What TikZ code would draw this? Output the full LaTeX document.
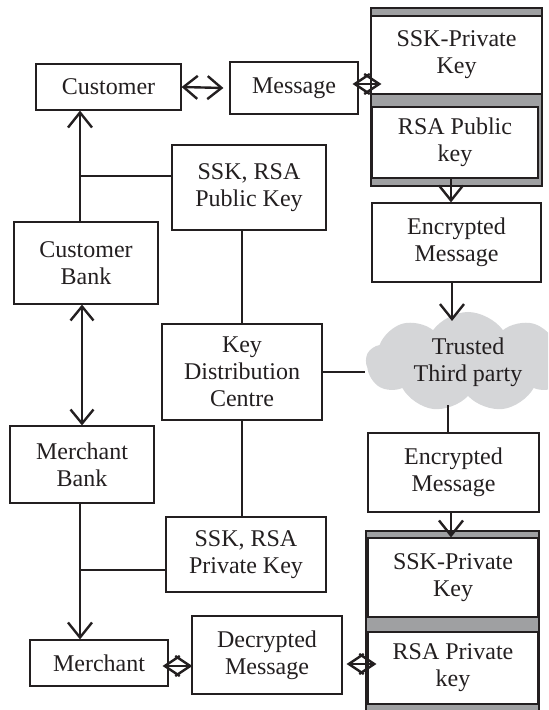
\documentclass[tikz,border=0pt]{standalone}
\usepackage{fontspec}
\setmainfont{Liberation Serif}
\usetikzlibrary{arrows.meta,shapes.symbols}
\definecolor{ink}{HTML}{231F20}
\definecolor{keygrey}{HTML}{9FA0A2}
\definecolor{cloudgrey}{HTML}{D5D6D8}

\begin{document}
\begin{tikzpicture}[x=0.5pt,y=-0.5pt,
		every node/.style={draw=ink,line width=0.6pt,align=center,inner sep=1pt,text=ink,font=\fontsize{12}{13.5}\selectfont},
		conn/.style={draw=ink,line width=1.2pt},
		vee/.style={conn,-{Straight Barb[length=7.5pt,width=12pt]}},
		both/.style={conn,{Straight Barb[length=7pt,width=11.5pt]}-{Straight Barb[length=7pt,width=11.5pt]}},
		dia/.style={conn,{Straight Barb[length=7.5pt,width=10pt]}-{Straight Barb[length=7.5pt,width=10pt]}}]
		\clip (0,0) rectangle (548,710);

		% left column
		\node[minimum width=72.5pt,minimum height=23pt] (cust) at (108.5,87) {Customer};
		\node[minimum width=72pt,minimum height=41pt] (custbank) at (86,263) {Customer\\Bank};
		\node[minimum width=72pt,minimum height=38.5pt] (merbank) at (82,464.5) {Merchant\\Bank};
		\node[minimum width=69pt,minimum height=23pt] (merch) at (99,663) {Merchant};

		% middle column
		\node[minimum width=64pt,minimum height=26pt] (msg) at (294,88) {Message};
		\node[minimum width=77pt,minimum height=42.5pt] (pubkey) at (249,187.5) {SSK, RSA\\Public Key};
		\node[minimum width=80pt,minimum height=48pt] (kdc) at (242,372) {Key\\Distribution\\Centre};
		\node[minimum width=80pt,minimum height=37.5pt] (privkey) at (246,554.5) {SSK, RSA\\Private Key};
		\node[minimum width=75pt,minimum height=39pt] (decmsg) at (267,655) {Decrypted\\Message};

		% right column
		\node[fill=keygrey,minimum width=85.5pt,minimum height=89pt] (encbox) at (456.5,97) {};
		\node[fill=white,minimum width=85.5pt,minimum height=39pt] (ssk1) at (456.5,55) {SSK-Private\\Key};
		\node[fill=white,minimum width=83pt,minimum height=35.5pt] (rsa1) at (455,142.5) {RSA Public\\key};
		\node[minimum width=84.5pt,minimum height=39.5pt] (enc1) at (456.5,242.5) {Encrypted\\Message};
		\node[cloud,draw=none,fill=cloudgrey,cloud puffs=9,cloud puff arc=110,aspect=2.1,minimum width=102pt,minimum height=50pt] (ttp) at (468,362) {Trusted\\Third party};
		\node[minimum width=85.5pt,minimum height=39.5pt] (enc2) at (453.5,472.5) {Encrypted\\Message};
		\node[fill=keygrey,minimum width=86.5pt,minimum height=92.5pt] (decbox) at (452.5,623.5) {};
		\node[fill=white,minimum width=85pt,minimum height=39.5pt] (ssk2) at (453,577.5) {SSK-Private\\Key};
		\node[fill=white,minimum width=85pt,minimum height=36pt] (rsa2) at (453,668) {RSA Private\\key};

		\coordinate (jpub) at (80,176);
		\coordinate (jpriv) at (80,570);
		\coordinate (rx) at (451,0);
		\coordinate (ttpin) at (452,321);
		\coordinate (ttpout) at (448,405);

		% bank side
		\draw[vee] (custbank.north -| jpub) -- (cust.south -| jpub);
		\draw[conn] (jpub) -- (jpub -| pubkey.west);
		\draw[both] (merbank.north |- custbank.south) -- (merbank.north);
		\draw[vee] (merbank.south -| jpriv) -- (merch.north -| jpriv);
		\draw[conn] (jpriv) -- (jpriv -| privkey.west);

		% key distribution
		\draw[conn] (kdc.north) -- (kdc.north |- pubkey.south);
		\draw[conn] (kdc.south) -- (kdc.south |- privkey.north);
		\draw[conn] (kdc.east) -- (kdc.east -| ttp.west);

		% message path
		\draw[both] (cust.east) -- ([xshift=-3pt]msg.west);
		\draw[dia] ([xshift=-3pt,yshift=2pt]msg.east) -- ([xshift=5.5pt,yshift=2pt]msg.east -| encbox.west);
		\foreach \a/\b in {rsa1/enc1, enc2/ssk2} {
				\draw[vee] (\a.south -| rx) -- (\b.north -| rx);
			}
		\draw[vee] (enc1.south -| ttpin) -- (ttpin);
		\draw[conn] (ttpout) -- (ttpout |- enc2.north);
		\draw[dia] ([xshift=-3pt,yshift=-1.5pt]merch.east) -- ([xshift=0.5pt,yshift=-1.5pt]merch.east -| decmsg.west);
		\draw[dia] ([xshift=2pt,yshift=-4.5pt]decmsg.east) -- ([xshift=5.5pt,yshift=-4.5pt]decmsg.east -| decbox.west);
	\end{tikzpicture}
\end{document}
